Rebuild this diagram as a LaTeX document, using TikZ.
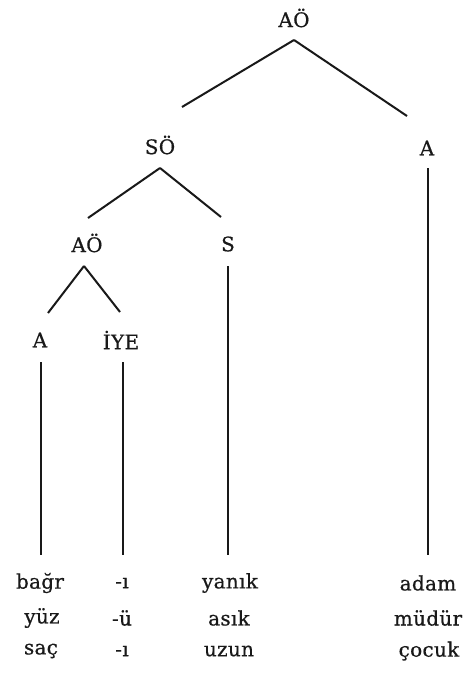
\documentclass[tikz,border=0pt]{standalone}
\usepackage{fontspec}
\setmainfont{DejaVu Serif}[LetterSpace=1.5,FakeBold=0.6]
\begin{document}
\begin{tikzpicture}[x=1pt,y=-1pt,
  lbl/.style={inner sep=0pt, text=black!90, font=\fontsize{20}{22}\selectfont},
  branch/.style={line width=2pt, black!90}]
  \useasboundingbox (0,0) rectangle (463,691);
  % phrase labels
  \node[lbl] (aoeTop) at (294,18) {AÖ};
  \node[lbl] (soe) at (160,145) {SÖ};
  \node[lbl] (aRight) at (427,148) {A};
  \node[lbl] (aoeMid) at (87,243) {AÖ};
  \node[lbl] (s) at (228,244) {S};
  \node[lbl] (aLeft) at (40,340) {A};
  \node[lbl] (iye) at (121,340) {İYE};
  % words
  \node[lbl] (bagr) at (40,583) {bağr};
  \node[lbl] (suffA) at (122,583) {-ı};
  \node[lbl] (yanik) at (230,583) {yanık};
  \node[lbl] (adam) at (428,583) {adam};
  \node[lbl] (yuz) at (42,618) {yüz};
  \node[lbl] (suffB) at (122,618) {-ü};
  \node[lbl] (asik) at (229,618) {asık};
  \node[lbl] (mudur) at (428,618) {müdür};
  \node[lbl] (sac) at (41,651) {saç};
  \node[lbl] (suffC) at (122,651) {-ı};
  \node[lbl] (uzun) at (229,651) {uzun};
  \node[lbl] (cocuk) at (429,651) {çocuk};
  % branches
  \draw[branch] ([shift={(0,22)}]aoeTop.center) -- ([shift={(22,-38)}]soe.center);
  \draw[branch] ([shift={(0,22)}]aoeTop.center) -- ([shift={(-20,-32)}]aRight.center);
  \draw[branch] ([shift={(0,23)}]soe.center) -- ([shift={(1,-25)}]aoeMid.center);
  \draw[branch] ([shift={(0,23)}]soe.center) -- ([shift={(-7,-27)}]s.center);
  \draw[branch] ([shift={(-3,23)}]aoeMid.center) -- ([shift={(8,-27)}]aLeft.center);
  \draw[branch] ([shift={(-3,23)}]aoeMid.center) -- ([shift={(-1,-28)}]iye.center);
  \draw[branch] ([shift={(1,22)}]aLeft.center) -- ([shift={(1,-28)}]bagr.center);
  \draw[branch] ([shift={(2,22)}]iye.center) -- ([shift={(1,-28)}]suffA.center);
  \draw[branch] ([shift={(0,22)}]s.center) -- ([shift={(-2,-28)}]yanik.center);
  \draw[branch] ([shift={(1,20)}]aRight.center) -- ([shift={(0,-28)}]adam.center);
\end{tikzpicture}
\end{document}
